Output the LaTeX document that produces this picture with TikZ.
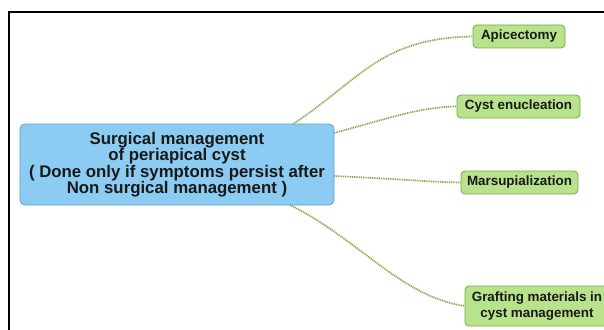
\documentclass[tikz,border=0pt]{standalone}
\usepackage{fontspec}
\setmainfont{Liberation Sans}
\begin{document}
\begin{tikzpicture}[x=1pt,y=-1pt,
  mainbox/.style={draw={rgb,255:red,90;green,160;blue,210}, line width=0.8pt, fill={rgb,255:red,140;green,204;blue,242}, rounded corners=5pt, align=center, font=\bfseries\fontsize{16.8}{16.5}\selectfont, inner sep=0pt, text=black!90},
  leaf/.style={draw={rgb,255:red,120;green,170;blue,70}, line width=0.8pt, fill={rgb,255:red,184;green,226;blue,140}, rounded corners=4pt, align=center, font=\bfseries\fontsize{13.4}{16}\selectfont, inner sep=0pt, text=black!90},
  link/.style={draw={rgb,255:red,135;green,165;blue,75}, line width=1.7pt, dash pattern=on 1pt off 0.8pt}]
\useasboundingbox (0,0) rectangle (604,329);
\fill[white] (0,0) rectangle (604,329);
\draw[line width=1.6pt] (9,335) -- (9,12) -- (610,12);
\node[mainbox, minimum width=314pt, minimum height=81pt] (m) at (177,164.5) {Surgical management\\of periapical cyst\\( Done only if symptoms persist after\\Non surgical management )};
\node[leaf, minimum width=92pt, minimum height=23pt] (a) at (519,36.5) {Apicectomy};
\node[leaf, minimum width=123pt, minimum height=23pt] (c) at (518.5,106.5) {Cyst enucleation};
\node[leaf, minimum width=117pt, minimum height=23pt] (s) at (519.5,182.5) {Marsupialization};
\node[leaf, minimum width=144pt, minimum height=40pt] (g) at (537,306) {Grafting materials in\\cyst management};
\coordinate (m1) at (293,124);
\coordinate (m2) at (334,133);
\coordinate (m3) at (334,176);
\coordinate (m4) at (290,205);
\draw[link] (m1) .. controls (360,80) and (380,38) .. (a.west);
\draw[link] (m2) .. controls (390,118) and (420,107) .. (c.west);
\draw[link] (m3) .. controls (400,179) and (430,182) .. (s.west);
\draw[link] (m4) .. controls (360,240) and (400,296) .. (g.west);
\end{tikzpicture}
\end{document}
